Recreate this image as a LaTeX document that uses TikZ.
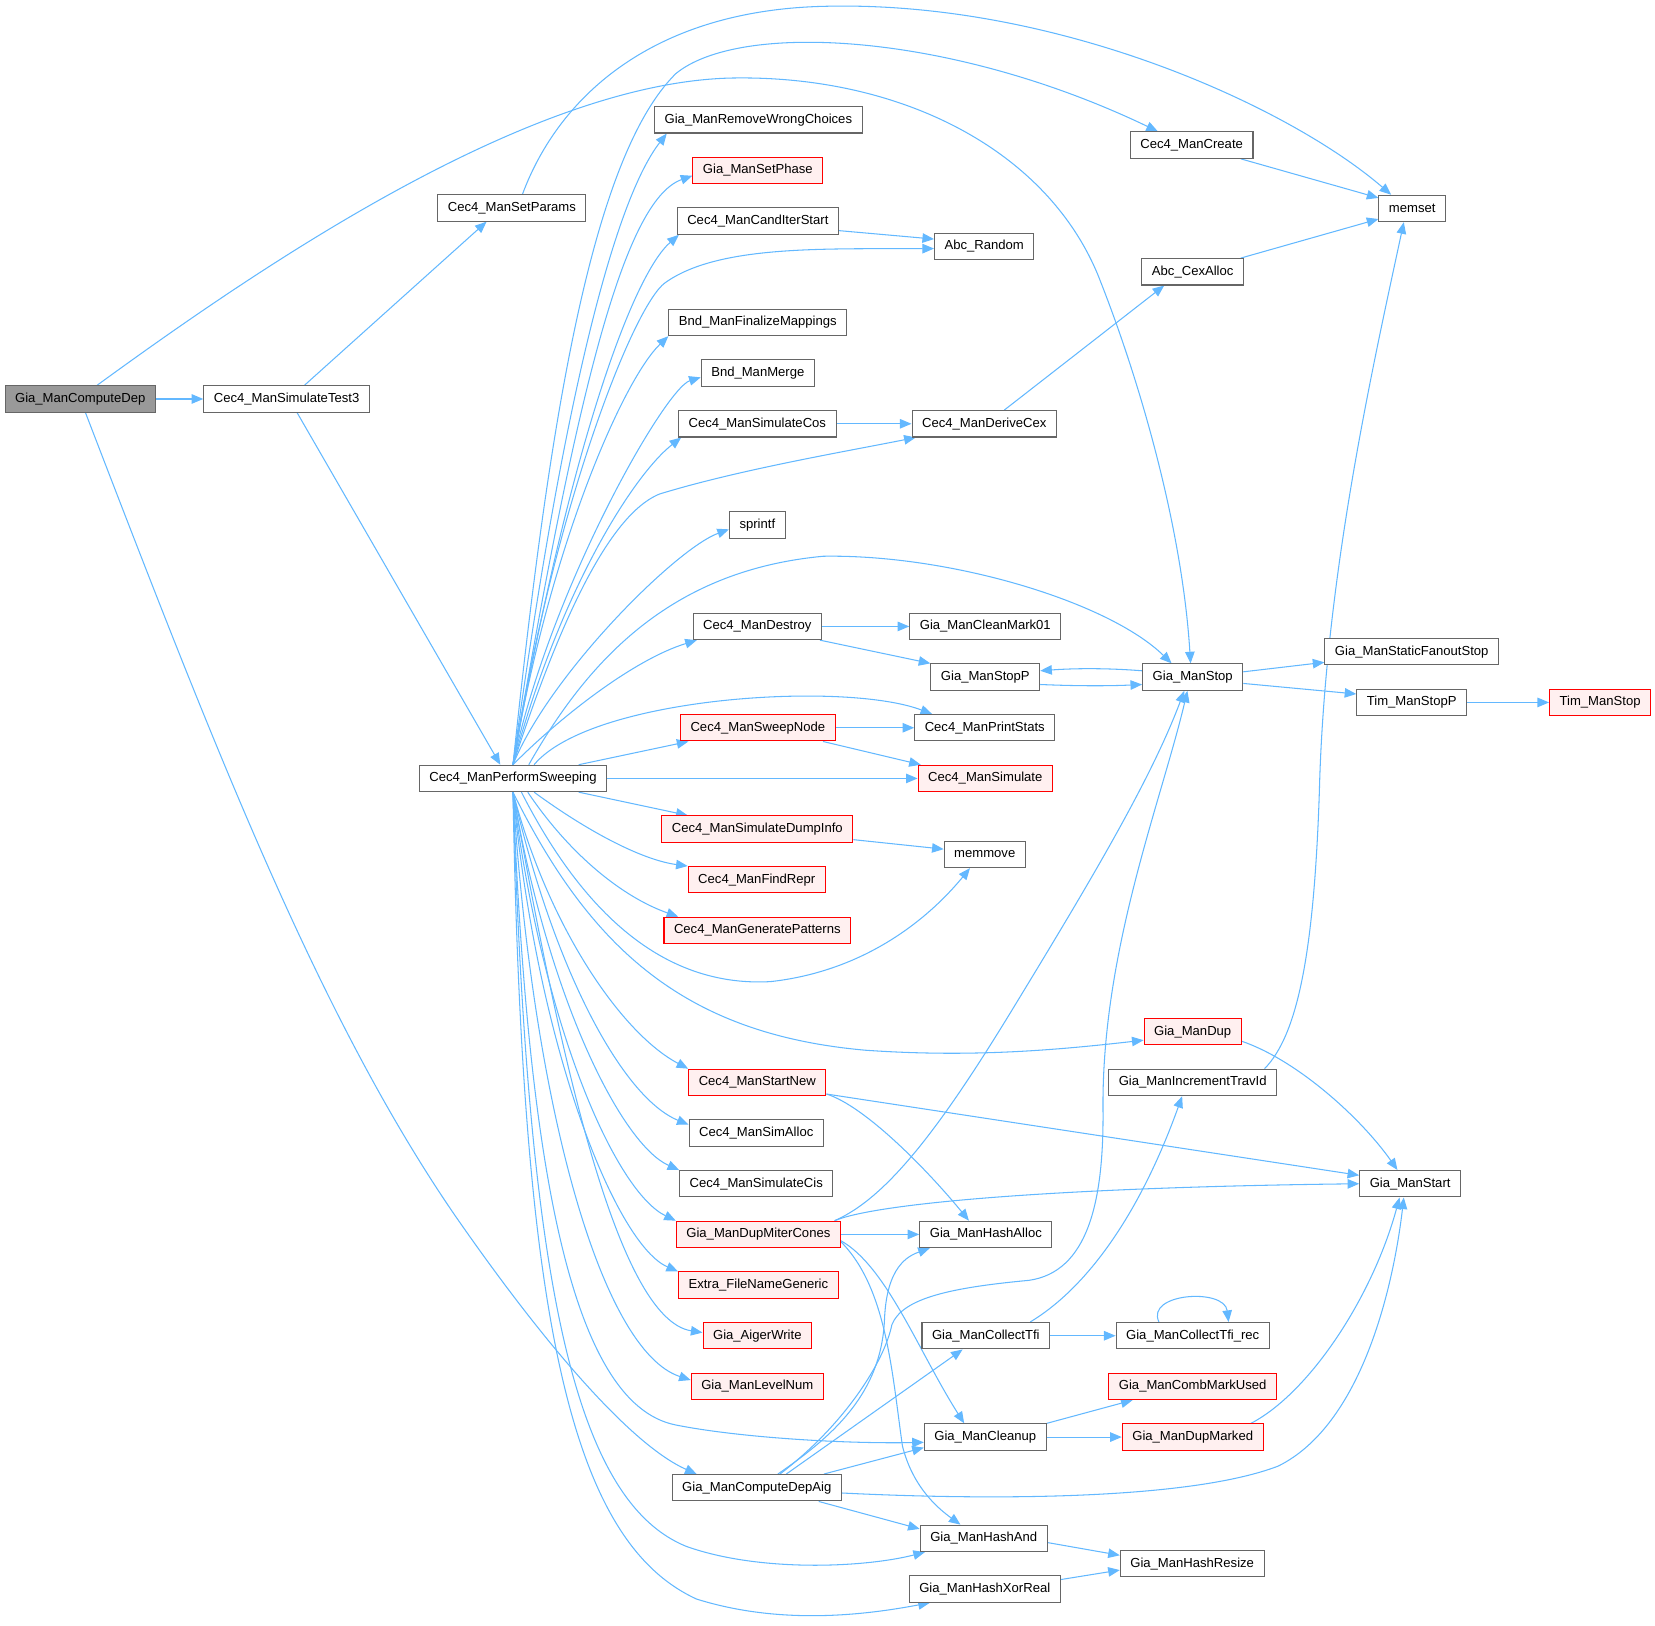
\documentclass[tikz,border=0pt]{standalone}
\usepackage{fontspec}
\setmainfont{Liberation Sans}
\usetikzlibrary{arrows.meta,backgrounds}
\definecolor{edgeblue}{HTML}{63B8FF}
\definecolor{boxline}{HTML}{666666}
\definecolor{redline}{HTML}{FF0000}
\definecolor{redfill}{HTML}{FFF0F0}
\definecolor{rootfill}{HTML}{999999}
\tikzset{
  fn/.style={rectangle,draw=boxline,fill=white,line width=1pt,font=\fontsize{12.4}{14}\selectfont,minimum height=25pt,inner xsep=9.5pt,inner ysep=0pt},
  rd/.style={fn,draw=redline,fill=redfill},
  rt/.style={fn,fill=rootfill},
  call/.style={draw=edgeblue,line width=1pt,-{Triangle[length=11pt,width=9pt]}},
}
\begin{document}
\begin{tikzpicture}[x=1pt,y=-1pt]
\useasboundingbox (0,0) rectangle (1568,1540);
% -callers-
\node[rt] (cd) at (76,378) {Gia\_ManComputeDep};
\node[fn] (st3) at (271.5,378) {Cec4\_ManSimulateTest3};
\node[fn] (sp) at (485,197) {Cec4\_ManSetParams};
\node[fn] (ps) at (486,737.5) {Cec4\_ManPerformSweeping};
% -column 4-
\node[fn] (rwc) at (718.5,113.5) {Gia\_ManRemoveWrongChoices};
\node[rd] (sph) at (718,161.5) {Gia\_ManSetPhase};
\node[fn] (cis) at (718,209.5) {Cec4\_ManCandIterStart};
\node[fn] (fm) at (718,305.5) {Bnd\_ManFinalizeMappings};
\node[fn] (bm) at (718,353.5) {Bnd\_ManMerge};
\node[fn] (scos) at (717.5,401.5) {Cec4\_ManSimulateCos};
\node[fn] (spr) at (717.5,497.5) {sprintf};
\node[fn] (des) at (717.5,593.5) {Cec4\_ManDestroy};
\node[rd] (swn) at (718,689.5) {Cec4\_ManSweepNode};
\node[rd] (sdi) at (717.5,785.5) {Cec4\_ManSimulateDumpInfo};
\node[rd] (fr) at (717,833.5) {Cec4\_ManFindRepr};
\node[rd] (gp) at (717.5,881.5) {Cec4\_ManGeneratePatterns};
\node[rd] (sn) at (717.5,1025.5) {Cec4\_ManStartNew};
\node[fn] (sa) at (716.5,1073.5) {Cec4\_ManSimAlloc};
\node[fn] (scis) at (716.5,1121.5) {Cec4\_ManSimulateCis};
\node[rd] (dmc) at (718.5,1169.5) {Gia\_ManDupMiterCones};
\node[rd] (efn) at (718.5,1217.5) {Extra\_FileNameGeneric};
\node[rd] (aw) at (717.5,1265.5) {Gia\_AigerWrite};
\node[rd] (ln) at (717.5,1313.5) {Gia\_ManLevelNum};
\node[fn] (cda) at (717,1409.5) {Gia\_ManComputeDepAig};
% -column 5-
\node[fn] (ar) at (932.5,233.5) {Abc\_Random};
\node[fn] (dc) at (932.5,401.5) {Cec4\_ManDeriveCex};
\node[fn] (cm) at (933.5,593.5) {Gia\_ManCleanMark01};
\node[fn] (stp) at (933.5,641.5) {Gia\_ManStopP};
\node[fn] (pst) at (933,689.5) {Cec4\_ManPrintStats};
\node[rd] (sim) at (933.5,737.5) {Cec4\_ManSimulate};
\node[fn] (mmv) at (933,809.5) {memmove};
\node[fn] (ha) at (934,1169.5) {Gia\_ManHashAlloc};
\node[fn] (ct) at (934,1265.5) {Gia\_ManCollectTfi};
\node[fn] (cl) at (933.5,1361.5) {Gia\_ManCleanup};
\node[fn] (hand) at (932,1457.5) {Gia\_ManHashAnd};
\node[fn] (hx) at (933,1505.5) {Gia\_ManHashXorReal};
% -column 6-
\node[fn] (cr) at (1129,137.5) {Cec4\_ManCreate};
\node[fn] (ca) at (1130,257.5) {Abc\_CexAlloc};
\node[fn] (gs) at (1130,641.5) {Gia\_ManStop};
\node[rd] (dup) at (1130,977.5) {Gia\_ManDup};
\node[fn] (itid) at (1130,1025.5) {Gia\_ManIncrementTravId};
\node[fn] (ctr) at (1130,1265.5) {Gia\_ManCollectTfi\_rec};
\node[rd] (cmu) at (1130,1313.5) {Gia\_ManCombMarkUsed};
\node[rd] (dm) at (1130,1361.5) {Gia\_ManDupMarked};
\node[fn] (hr) at (1129.5,1481.5) {Gia\_ManHashResize};
% -column 7-
\node[fn] (ms) at (1338,197.5) {memset};
\node[fn] (sfs) at (1337.5,617.5) {Gia\_ManStaticFanoutStop};
\node[fn] (tsp) at (1337.5,665.5) {Tim\_ManStopP};
\node[fn] (gst) at (1336,1121.5) {Gia\_ManStart};
\node[rd] (ts) at (1516,665.5) {Tim\_ManStop};
\begin{scope}[on background layer]
% -root-
\draw[call] (cd.east) -- (st3.west);
\draw[call] ([xshift=16pt]cd.north) .. controls (250,250) and (500,80) .. (690,74) .. controls (850,70) and (990,140) .. (1040,260) .. controls (1080,360) and (1120,500) .. ([xshift=-2pt]gs.north);
\draw[call] ([xshift=5pt]cd.south) .. controls (200,700) and (300,960) .. (430,1150) .. controls (520,1280) and (600,1370) .. ([xshift=-57pt]cda.north);
\draw[call] ([xshift=17pt]st3.north) -- ([xshift=-24pt]sp.south);
\draw[call] ([xshift=10pt]st3.south) -- ([xshift=-12pt]ps.north);
\draw[call] ([xshift=10pt]sp.north) .. controls (530,90) and (620,10) .. (780,6) .. controls (1000,0) and (1220,100) .. ([xshift=-20pt]ms.north);
% -sweeping, upward-
\draw[call] (ps.north) .. controls (520,400) and (560,150) .. (640,70) .. controls (700,20) and (900,30) .. ([xshift=-32pt]cr.north);
\draw[call] (ps.north) .. controls (540,330) and (590,180) .. ([xshift=12pt]rwc.south west);
\draw[call] (ps.north) .. controls (545,380) and (590,190) .. ([yshift=-5pt]sph.west);
\draw[call] (ps.north) .. controls (540,420) and (600,260) .. ([xshift=2pt]cis.south west);
\draw[call] (ps.north) .. controls (525,480) and (600,290) .. (630,268) .. controls (680,232) and (780,236) .. ([yshift=-2pt]ar.west);
\draw[call] (ps.north) .. controls (520,520) and (590,360) .. (fm.south west);
\draw[call] (ps.north) .. controls (520,560) and (630,368) .. ([yshift=-4pt]bm.west);
\draw[call] (ps.north) .. controls (530,560) and (600,450) .. ([xshift=3pt]scos.south west);
\draw[call] (ps.north) .. controls (520,620) and (570,490) .. (625,468) .. controls (700,445) and (800,428) .. ([xshift=4pt]dc.south west);
\draw[call] (ps.north) .. controls (520,640) and (640,520) .. ([yshift=-4pt]spr.west);
\draw[call] ([xshift=15pt]ps.north) .. controls (560,620) and (640,540) .. (780,527) .. controls (900,525) and (1050,570) .. ([xshift=-20pt]gs.north);
\draw[call] (ps.north) .. controls (530,680) and (600,625) .. ([xshift=4pt]des.south west);
\draw[call] ([xshift=20pt]ps.north) .. controls (560,660) and (800,645) .. ([xshift=17pt]pst.north west);
\draw[call] ([xshift=-27pt]ps.north east) -- ([xshift=8pt]swn.south west);
\draw[call] (ps.east) -- (sim.west);
% -sweeping, downward-
\draw[call] ([xshift=-27pt]ps.south east) -- ([xshift=25pt]sdi.north west);
\draw[call] ([xshift=20pt]ps.south) .. controls (560,790) and (610,815) .. (fr.north west);
\draw[call] ([xshift=14pt]ps.south) .. controls (540,810) and (590,850) .. ([xshift=14pt]gp.north west);
\draw[call] ([xshift=8pt]ps.south) .. controls (560,880) and (640,935) .. (730,930) .. controls (820,920) and (880,870) .. ([xshift=-14pt]mmv.south);
\draw[call] (ps.south) .. controls (560,900) and (650,980) .. (820,995) .. controls (920,1002) and (1000,995) .. ([yshift=-8pt]dup.west);
\draw[call] (ps.south) .. controls (520,880) and (590,980) .. (sn.north west);
\draw[call] (ps.south) .. controls (525,920) and (590,1040) .. ([yshift=8pt]sa.west);
\draw[call] (ps.south) .. controls (520,950) and (590,1085) .. (scis.north west);
\draw[call] (ps.south) .. controls (515,980) and (585,1130) .. (dmc.north west);
\draw[call] (ps.south) .. controls (510,1000) and (585,1180) .. (efn.north west);
\draw[call] (ps.south) .. controls (530,1000) and (585,1250) .. ([yshift=3pt]aw.west);
\draw[call] (ps.south) .. controls (505,1050) and (570,1280) .. ([yshift=6pt]ln.west);
\draw[call] (ps.south) .. controls (500,1100) and (540,1330) .. (640,1350) .. controls (700,1362) and (800,1368) .. ([yshift=-5pt]cl.west);
\draw[call] (ps.south) .. controls (500,1200) and (540,1420) .. (650,1465) .. controls (720,1490) and (820,1485) .. ([xshift=5pt]hand.south west);
\draw[call] (ps.south) .. controls (495,1250) and (540,1460) .. (660,1515) .. controls (740,1540) and (820,1530) .. ([xshift=20pt]hx.south west);
% -middle calls-
\draw[call] ([yshift=-9pt]cis.east) -- ([yshift=7pt]ar.west);
\draw[call] (scos.east) -- (dc.west);
\draw[call] ([xshift=19pt]dc.north) -- ([xshift=-27pt]ca.south);
\draw[call] ([xshift=-3pt]ca.north east) -- ([yshift=3pt]ms.south west);
\draw[call] ([xshift=-12pt]cr.south east) -- ([yshift=-3pt]ms.north west);
\draw[call] (des.east) -- (cm.west);
\draw[call] ([xshift=-2pt]des.south east) -- (stp.north west);
\draw[call] ([yshift=6pt]gs.west) .. controls (1050,633) and (1020,633) .. ([yshift=6pt]stp.east);
\draw[call] ([yshift=-7pt]stp.east) .. controls (1020,650) and (1050,650) .. ([yshift=-7pt]gs.west);
\draw[call] ([yshift=5pt]gs.east) -- ([yshift=3pt]sfs.south west);
\draw[call] ([yshift=-6pt]gs.east) -- ([yshift=-5pt]tsp.north west);
\draw[call] (tsp.east) -- (ts.west);
\draw[call] (swn.east) -- (pst.west);
\draw[call] ([xshift=-12pt]swn.south east) -- ([xshift=3pt]sim.north west);
\draw[call] ([yshift=3pt]sdi.south east) -- ([yshift=-8pt]mmv.north west);
% -lower calls-
\draw[call] ([yshift=-9pt]dup.east) .. controls (1230,1005) and (1290,1060) .. ([xshift=-12pt]gst.north);
\draw[call] ([xshift=-12pt]itid.north east) .. controls (1230,980) and (1245,900) .. (1250,750) .. controls (1255,550) and (1300,350) .. ([xshift=-8pt]ms.south);
\draw[call] ([yshift=2pt]sn.south east) -- ([yshift=8pt]gst.west);
\draw[call] ([yshift=2pt]sn.south east) .. controls (820,1048) and (880,1110) .. ([xshift=-16pt]ha.north);
\draw[call] ([xshift=-6pt]dmc.north east) .. controls (840,1135) and (890,1070) .. (960,955) .. controls (1030,840) and (1090,740) .. ([xshift=-8pt]gs.south);
\draw[call] ([xshift=-6pt]dmc.north east) .. controls (830,1140) and (1000,1125) .. (gst.west);
\draw[call] (dmc.east) -- (ha.west);
\draw[call] ([yshift=-6pt]dmc.east) .. controls (840,1200) and (870,1280) .. ([xshift=-20pt]cl.north);
\draw[call] ([yshift=-7pt]dmc.east) .. controls (840,1220) and (845,1300) .. (855,1370) .. controls (865,1410) and (890,1430) .. ([xshift=-22pt]hand.north);
\draw[call] ([xshift=20pt]cda.north) .. controls (790,1360) and (835,1320) .. (838,1250) .. controls (840,1200) and (860,1190) .. ([xshift=10pt]ha.south west);
\draw[call] ([xshift=22pt]cda.north) .. controls (800,1350) and (838,1290) .. (845,1255) .. controls (855,1230) and (900,1220) .. (975,1213) .. controls (1030,1205) and (1046,1140) .. (1045,1050) .. controls (1044,900) and (1100,760) .. ([xshift=-5pt]gs.south);
\draw[call] ([xshift=28pt]cda.north) -- ([xshift=-22pt]ct.south);
\draw[call] ([xshift=-17pt]cda.north east) -- ([yshift=3pt]cl.south west);
\draw[call] ([yshift=-5pt]cda.east) .. controls (950,1422) and (1130,1420) .. (1211,1389) .. controls (1290,1350) and (1320,1220) .. ([xshift=-6pt]gst.south);
\draw[call] ([xshift=-22pt]cda.south east) -- ([yshift=-4pt]hand.north west);
\draw[call] ([xshift=42pt]ct.north) .. controls (1030,1220) and (1080,1150) .. ([xshift=-10pt]itid.south);
\draw[call] (ct.east) -- (ctr.west);
\draw[call] ([xshift=-32pt]ctr.north) .. controls (1085,1225) and (1160,1220) .. ([xshift=34pt]ctr.north);
\draw[call] (cl.north east) -- ([xshift=23pt]cmu.south west);
\draw[call] (cl.east) -- (dm.west);
\draw[call] ([xshift=-12pt]dm.north east) .. controls (1240,1320) and (1300,1230) .. ([xshift=-10pt]gst.south);
\draw[call] ([yshift=-4pt]hand.east) -- ([yshift=8pt]hr.west);
\draw[call] ([yshift=9pt]hx.east) -- ([yshift=-6pt]hr.west);
\end{scope}
\end{tikzpicture}
\end{document}
